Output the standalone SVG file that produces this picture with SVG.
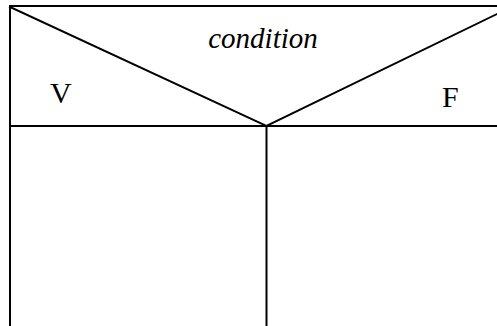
<svg xmlns="http://www.w3.org/2000/svg" width="497" height="326" viewBox="0 0 497 326">
<style>
.ln{stroke:#000;stroke-width:2;fill:none;stroke-linecap:square}
.t{font-family:"Liberation Serif","DejaVu Serif",serif;fill:#000;font-size:30px}
.cond{font-style:italic;font-size:29px;text-anchor:middle}
</style>
<rect width="497" height="326" fill="#fff"/>
<g id="connectors">
<line class="ln" x1="10" y1="6" x2="497" y2="6"/>
<line class="ln" x1="10" y1="6" x2="10" y2="326"/>
<line class="ln" x1="10" y1="126" x2="497" y2="126"/>
<line class="ln" x1="266.5" y1="126" x2="266.5" y2="326"/>
<line class="ln" x1="10" y1="7" x2="266.5" y2="126"/>
<line class="ln" x1="266.5" y1="126" x2="497" y2="14"/>
</g>
<g id="condition">
<text class="t cond" x="263" y="48">condition</text>
</g>
<g id="true-branch">
<text class="t" x="50" y="103">V</text>
</g>
<g id="false-branch">
<text class="t" x="442" y="107">F</text>
</g>
</svg>
